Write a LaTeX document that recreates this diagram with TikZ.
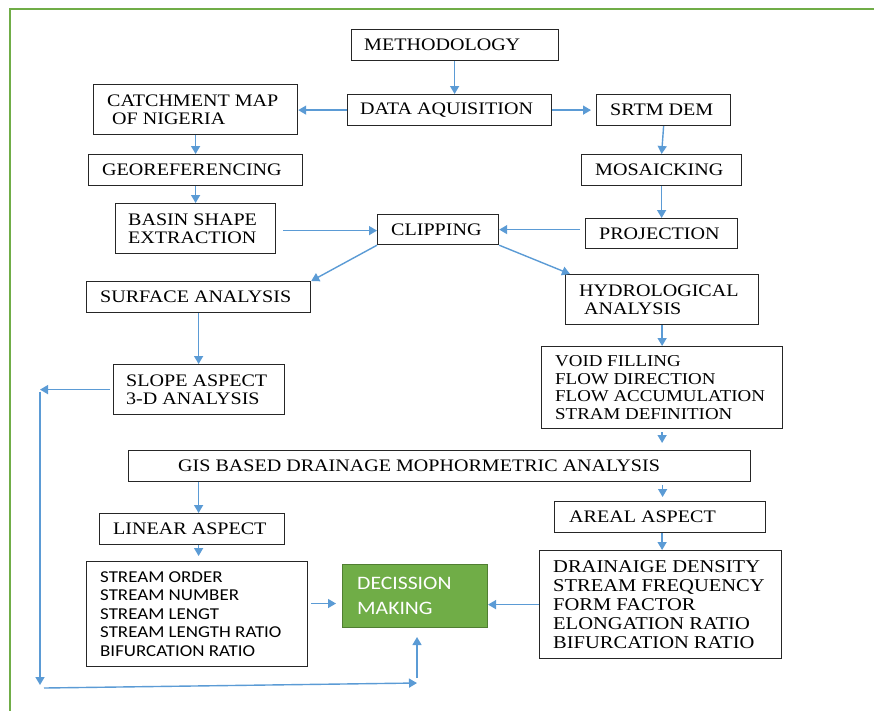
\documentclass[tikz,border=0pt]{standalone}
\usepackage{fontspec}
\setmainfont{Liberation Serif}[FakeStretch=1.14]
\newfontfamily\calib{Carlito}[FakeStretch=1.14]
\usetikzlibrary{arrows.meta,calc}
\definecolor{arrowblue}{RGB}{91,155,213}
\definecolor{framegreen}{RGB}{112,173,71}
\definecolor{decborder}{RGB}{80,126,50}
\begin{document}
\begin{tikzpicture}[x=1pt,y=-1pt,
  bx/.style={draw=black!85, line width=1.2pt, rectangle, anchor=north west, inner sep=0pt},
  txt/.style={anchor=west, inner sep=0pt, align=left, font=\fontsize{17.6}{18.2}\selectfont},
  arr/.style={draw=arrowblue, line width=1.4pt, -{Triangle[length=8pt,width=9pt]}},
  frame/.style={draw=framegreen, line width=1.6pt}]
\useasboundingbox (0,0) rectangle (874,710);
\draw[frame] (10,712) -- (10,9) -- (876,9);

% boxes
\node[bx, minimum width=207pt, minimum height=31pt] (meth) at (351,29) {};
\node[bx, minimum width=204pt, minimum height=31pt] (data) at (347,94) {};
\node[bx, minimum width=204pt, minimum height=50pt] (catch) at (93,84) {};
\node[bx, minimum width=134pt, minimum height=31pt] (srtm) at (596,94) {};
\node[bx, minimum width=214pt, minimum height=31pt] (geo) at (88,154) {};
\node[bx, minimum width=160pt, minimum height=31pt] (mosa) at (581,154) {};
\node[bx, minimum width=160pt, minimum height=50pt] (basin) at (115,203) {};
\node[bx, minimum width=121pt, minimum height=30pt] (clip) at (377,214) {};
\node[bx, minimum width=152pt, minimum height=30pt] (proj) at (585,218) {};
\node[bx, minimum width=224pt, minimum height=31pt] (surf) at (86,281) {};
\node[bx, minimum width=193pt, minimum height=50pt] (hydro) at (565,274) {};
\node[bx, minimum width=171pt, minimum height=50pt] (slope) at (113,364) {};
\node[bx, minimum width=241pt, minimum height=82pt] (void) at (541,346) {};
\node[bx, minimum width=622pt, minimum height=31pt] (gis) at (128,450) {};
\node[bx, minimum width=185pt, minimum height=31pt] (linear) at (99,513) {};
\node[bx, minimum width=211pt, minimum height=31pt] (areal) at (554,501) {};
\node[bx, minimum width=221pt, minimum height=105pt] (stream) at (86,561) {};
\node[bx, draw=decborder, line width=1pt, fill=framegreen, minimum width=145pt, minimum height=63pt] (dec) at (342,564) {};
\node[bx, minimum width=242pt, minimum height=108pt] (drain) at (539,550) {};

% texts
\node[txt] (t-meth) at ([xshift=13pt]meth.west) {METHODOLOGY};
\node[txt] (t-data) at ([xshift=13pt]data.west) {DATA AQUISITION};
\node[txt] (t-catch) at ([xshift=14pt]catch.west) {CATCHMENT MAP\\\hspace*{5pt}OF NIGERIA};
\node[txt] (t-srtm) at ([xshift=14pt]srtm.west) {SRTM DEM};
\node[txt] (t-geo) at ([xshift=14pt]geo.west) {GEOREFERENCING};
\node[txt] (t-mosa) at ([xshift=14pt]mosa.west) {MOSAICKING};
\node[txt] (t-basin) at ([xshift=13pt]basin.west) {BASIN SHAPE\\EXTRACTION};
\node[txt] (t-clip) at ([xshift=14pt]clip.west) {CLIPPING};
\node[txt] (t-proj) at ([xshift=14pt]proj.west) {PROJECTION};
\node[txt] (t-surf) at ([xshift=14pt]surf.west) {SURFACE ANALYSIS};
\node[txt] (t-hydro) at ([xshift=14pt]hydro.west) {HYDROLOGICAL\\\hspace*{5pt}ANALYSIS};
\node[txt] (t-slope) at ([xshift=13pt]slope.west) {SLOPE ASPECT\\3-D ANALYSIS};
\node[txt, font=\fontsize{16.6}{17.4}\selectfont] (t-void) at ([xshift=14pt]void.west) {VOID FILLING\\FLOW DIRECTION\\FLOW ACCUMULATION\\STRAM DEFINITION};
\node[txt] (t-gis) at ([xshift=50pt]gis.west) {GIS BASED DRAINAGE MOPHORMETRIC ANALYSIS};
\node[txt] (t-linear) at ([xshift=14pt]linear.west) {LINEAR ASPECT};
\node[txt] (t-areal) at ([xshift=15pt]areal.west) {AREAL ASPECT};
\node[txt, font=\calib\fontsize{16.6}{18.5}\selectfont] (t-stream) at ([xshift=14pt]stream.west) {STREAM ORDER\\STREAM NUMBER\\STREAM LENGT\\STREAM LENGTH RATIO\\BIFURCATION RATIO};
\node[txt, text=white, font=\calib\fontsize{19}{25}\selectfont] (t-dec) at ([xshift=15pt]dec.west) {DECISSION\\MAKING};
\node[txt, font=\fontsize{18}{19.2}\selectfont] (t-drain) at ([xshift=14pt]drain.west) {DRAINAIGE DENSITY\\STREAM FREQUENCY\\FORM FACTOR\\ELONGATION RATIO\\BIFURCATION RATIO};

% connectors
\draw[arr] ([xshift=-0.5pt]meth.south) -- ([xshift=-0.5pt]meth.south |- data.north);
\draw[arr] (data.west) -- (data.west -| catch.east);
\draw[arr, shorten >=5pt] (data.east) -- (data.east -| srtm.west);
\draw[arr] (catch.south) -- (catch.south |- geo.north);
\draw[arr] (geo.south) -- (geo.south |- basin.north);
\draw[arr, shorten <=7pt] ([yshift=-2pt]basin.east) -- ([yshift=-2pt]basin.east -| clip.west);
\draw[arr] (srtm.south) -- (mosa.north);
\draw[arr] (mosa.south) -- (mosa.south |- proj.north);
\draw[arr, shorten <=5pt] (proj.west |- clip.east) -- (clip.east);
\draw[arr] (clip.south west) -- (surf.north east);
\draw[arr] (clip.south east) -- ([xshift=5pt]hydro.north west);
\draw[arr] (surf.south) -- (surf.south |- slope.north);
\draw[arr] (hydro.south) -- (hydro.south |- void.north);
\draw[arr, shorten <=3pt, shorten >=7pt] (void.south) -- (void.south |- gis.north);
\draw[arr] ([xshift=6.5pt]linear.north |- gis.south) -- ([xshift=6.5pt]linear.north);
\draw[arr, shorten <=3pt, shorten >=4pt] ([xshift=2.5pt]areal.north |- gis.south) -- ([xshift=2.5pt]areal.north);
\draw[arr, shorten >=5pt] ([xshift=1.5pt]stream.north |- linear.south) -- ([xshift=1.5pt]stream.north);
\draw[arr] ([xshift=2pt]areal.south) -- ([xshift=2pt]areal.south |- drain.north);
\draw[arr, shorten <=3pt, shorten >=6pt] (stream.east |- {$(dec.west)+(0,7.5)$}) -- ($(dec.west)+(0,7.5)$);
\draw[arr] (drain.west) -- (drain.west -| dec.east);

% feedback loop
\coordinate (lp1) at (40,388);
\coordinate (lp2) at (40,685);
\coordinate (lp3s) at (44,688);
\coordinate (lp3) at (417,683);
\coordinate (lp4) at (417,678);
\draw[arr, shorten <=3pt] (slope.west) -- (slope.west -| lp1);
\draw[arr, shorten <=2pt] (slope.west -| lp1) -- (lp2);
\draw[arr] (lp3s) -- (lp3);
\draw[arr, shorten >=9pt] (lp4) -- (lp4 |- dec.south);
\end{tikzpicture}
\end{document}
